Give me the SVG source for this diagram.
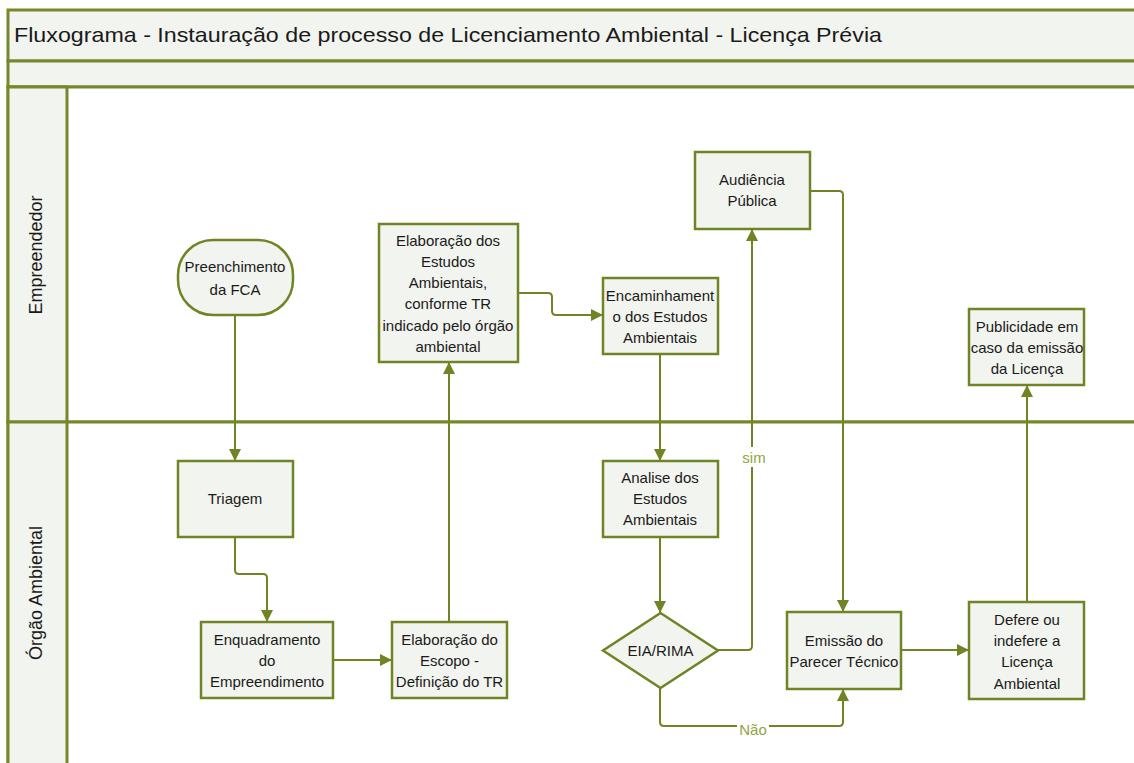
<svg xmlns="http://www.w3.org/2000/svg" width="1134" height="763" viewBox="0 0 1134 763">
<defs>
<style>
.lane{fill:#f2f4ef;stroke:#76882b;stroke-width:3}
.body{fill:#ffffff;stroke:#76882b;stroke-width:3}
.box{fill:#f2f4ef;stroke:#6f8424;stroke-width:2.5}
.t{font-family:"Liberation Sans",Arial,sans-serif;font-size:15px;fill:#1a1a1a;text-anchor:middle}
.lt{font-family:"Liberation Sans",Arial,sans-serif;font-size:18px;fill:#1a1a1a;text-anchor:middle}
.title{font-family:"Liberation Sans",Arial,sans-serif;font-size:21px;fill:#1a1a1a}
.c{fill:none;stroke:#6f8424;stroke-width:2}
.lbl{font-family:"Liberation Sans",Arial,sans-serif;font-size:15px;fill:#8ea63f;text-anchor:middle}
</style>
<marker id="arr" markerUnits="userSpaceOnUse" markerWidth="13" markerHeight="12" viewBox="0 0 13 12" refX="12" refY="6" orient="auto">
<path d="M0,0 L12,6 L0,12 Z" fill="#6f8424"/>
</marker>
</defs>

<g id="frame">
<rect class="lane" x="8" y="10" width="1140" height="51"/>
<rect class="lane" x="8" y="61" width="1140" height="26"/>
<rect class="body" x="8" y="87" width="1140" height="335"/>
<rect class="body" x="8" y="422" width="1140" height="350"/>
<rect class="lane" x="8" y="87" width="59" height="335"/>
<rect class="lane" x="8" y="422" width="59" height="350"/>
<text class="title" x="14" y="42" textLength="868" lengthAdjust="spacingAndGlyphs">Fluxograma - Instauração de processo de Licenciamento Ambiental - Licença Prévia</text>
<text class="lt" transform="translate(42,255) rotate(-90)">Empreendedor</text>
<text class="lt" transform="translate(42,593) rotate(-90)">Órgão Ambiental</text>
</g>

<g id="connectors">
<path class="c" d="M235,316 V461" marker-end="url(#arr)"/>
<path class="c" d="M235,537 V570 Q235,574 239,574 H263 Q267,574 267,578 V622" marker-end="url(#arr)"/>
<path class="c" d="M333,660 H392" marker-end="url(#arr)"/>
<path class="c" d="M449,622 V362" marker-end="url(#arr)"/>
<path class="c" d="M518,293 H548 Q552,293 552,297 V311 Q552,315 556,315 H603" marker-end="url(#arr)"/>
<path class="c" d="M660,354 V461" marker-end="url(#arr)"/>
<path class="c" d="M660,537 V613" marker-end="url(#arr)"/>
<path class="c" d="M718,650 H748 Q752,650 752,646 V229" marker-end="url(#arr)"/>
<path class="c" d="M810,191 H839 Q843,191 843,195 V612" marker-end="url(#arr)"/>
<path class="c" d="M660,688 V722 Q660,726 664,726 H839 Q843,726 843,722 V689" marker-end="url(#arr)"/>
<path class="c" d="M901,650 H969" marker-end="url(#arr)"/>
<path class="c" d="M1027,602 V385" marker-end="url(#arr)"/>
<rect x="740" y="447" width="26" height="20" fill="#ffffff"/>
<text class="lbl" x="754" y="463">sim</text>
<rect x="737" y="719" width="32" height="20" fill="#ffffff"/>
<text class="lbl" x="753" y="735">Não</text>
</g>

<g id="n-fca">
<rect class="box" x="178" y="240" width="115" height="75" rx="35" ry="35"/>
<text class="t" x="235" y="272">Preenchimento</text>
<text class="t" x="235" y="295">da FCA</text>
</g>

<g id="n-elab-estudos">
<rect class="box" x="379" y="224" width="139" height="138"/>
<text class="t" x="448" y="246">Elaboração dos</text>
<text class="t" x="448" y="267">Estudos</text>
<text class="t" x="448" y="288">Ambientais,</text>
<text class="t" x="448" y="309">conforme TR</text>
<text class="t" x="448" y="331">indicado pelo órgão</text>
<text class="t" x="448" y="352">ambiental</text>
</g>

<g id="n-encaminhamento">
<rect class="box" x="603" y="278" width="115" height="76"/>
<text class="t" x="660" y="301">Encaminhament</text>
<text class="t" x="660" y="322">o dos Estudos</text>
<text class="t" x="660" y="343">Ambientais</text>
</g>

<g id="n-audiencia">
<rect class="box" x="695" y="152" width="115" height="77"/>
<text class="t" x="752" y="185">Audiência</text>
<text class="t" x="752" y="206">Pública</text>
</g>

<g id="n-publicidade">
<rect class="box" x="969" y="309" width="115" height="76"/>
<text class="t" x="1027" y="332">Publicidade em</text>
<text class="t" x="1027" y="353">caso da emissão</text>
<text class="t" x="1027" y="374">da Licença</text>
</g>

<g id="n-triagem">
<rect class="box" x="178" y="461" width="115" height="76"/>
<text class="t" x="235" y="504">Triagem</text>
</g>

<g id="n-enquadramento">
<rect class="box" x="201" y="622" width="132" height="76"/>
<text class="t" x="267" y="645">Enquadramento</text>
<text class="t" x="267" y="666">do</text>
<text class="t" x="267" y="687">Empreendimento</text>
</g>

<g id="n-escopo">
<rect class="box" x="392" y="622" width="115" height="76"/>
<text class="t" x="449.5" y="645">Elaboração do</text>
<text class="t" x="449.5" y="666">Escopo -</text>
<text class="t" x="449.5" y="687">Definição do TR</text>
</g>

<g id="n-analise">
<rect class="box" x="603" y="461" width="115" height="76"/>
<text class="t" x="660" y="483">Analise dos</text>
<text class="t" x="660" y="504">Estudos</text>
<text class="t" x="660" y="525">Ambientais</text>
</g>

<g id="n-eia">
<polygon class="box" points="660.5,613 718,650.5 660.5,688 603,650.5"/>
<text class="t" x="660.5" y="656">EIA/RIMA</text>
</g>

<g id="n-emissao">
<rect class="box" x="787" y="612" width="114" height="77"/>
<text class="t" x="844" y="646">Emissão do</text>
<text class="t" x="844" y="667">Parecer Técnico</text>
</g>

<g id="n-defere">
<rect class="box" x="969" y="602" width="115" height="97"/>
<text class="t" x="1027" y="625">Defere ou</text>
<text class="t" x="1027" y="646">indefere a</text>
<text class="t" x="1027" y="667">Licença</text>
<text class="t" x="1027" y="689">Ambiental</text>
</g>
</svg>
